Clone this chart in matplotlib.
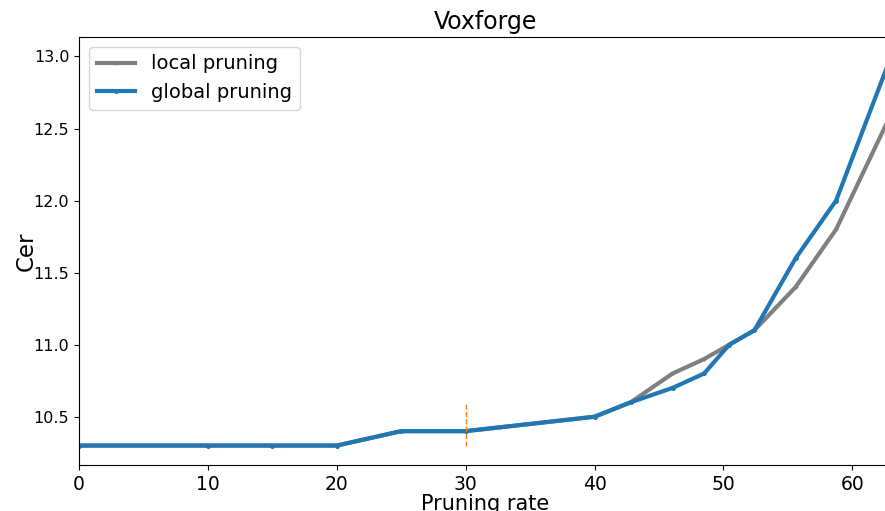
import matplotlib.pyplot as plt

# pruning rate (%) and character error rate
rates = [0, 10, 15, 20, 25, 30, 40, 42.8, 46.05, 48.5, 50.45, 52.4, 55.6, 58.74, 63.0]
local_cer = [10.3, 10.3, 10.3, 10.3, 10.4, 10.4, 10.5, 10.6, 10.8, 10.9, 11.0, 11.1, 11.4, 11.8, 12.6]
global_cer = [10.3, 10.3, 10.3, 10.3, 10.4, 10.4, 10.5, 10.6, 10.7, 10.8, 11.0, 11.1, 11.6, 12.0, 13.0]

fig = plt.figure(figsize=(8.85, 5.11), dpi=100)
ax = fig.add_axes([0.0893, 0.09, 0.9175, 0.8376])

ax.plot(rates, local_cer, color="gray", lw=3, marker="+", ms=3, label="local pruning")
ax.plot(rates, global_cer, color="#1f77b4", lw=3, marker=".", ms=5, label="global pruning")
ax.vlines(30, 10.3, 10.6, colors="C1", linestyles="--", lw=1)

ax.set_xlim(0, 63)
ax.set_ylim(10.165, 13.135)
ax.set_title("Voxforge", fontsize=17)
ax.set_xlabel("Pruning rate", fontsize=15, labelpad=0)
ax.set_ylabel("Cer", fontsize=16.5, labelpad=-3)
ax.tick_params(axis="x", labelsize=13.5)
ax.tick_params(axis="y", labelsize=11.5)
ax.legend(loc="upper left", fontsize=14)

fig.savefig("out.png", dpi=100)
